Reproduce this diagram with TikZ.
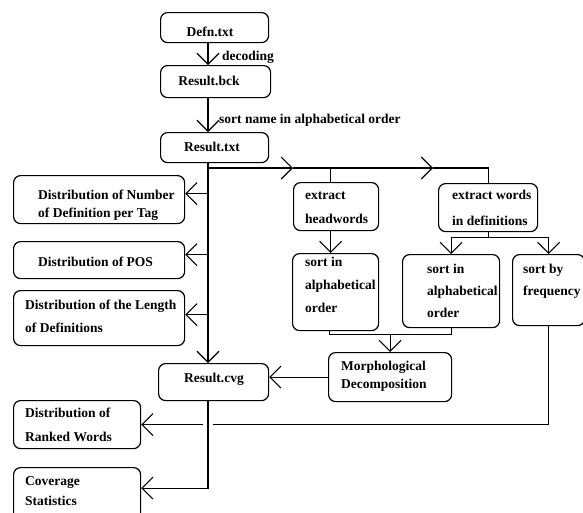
\documentclass[tikz,border=0pt]{standalone}
\usepackage{fontspec}
\setmainfont{Liberation Serif}
\usetikzlibrary{arrows.meta}
\begin{document}
\begin{tikzpicture}[x=1pt,y=-1pt,
  box/.style={draw, line width=1.2pt, rounded corners=7pt, inner sep=0pt, anchor=north west},
  txt/.style={inner sep=0pt, anchor=base west, align=left, font=\bfseries\fontsize{13.5}{18}\selectfont},
  txtc/.style={txt, anchor=base},
  ln/.style={line width=1.1pt},
  arr/.style={ln, -{Straight Barb[length=11pt,width=22pt,line width=1.1pt]}},
]
\useasboundingbox (0,0) rectangle (583,512);
% boxes
\node[box, minimum width=108pt, minimum height=30pt] (defn) at (160,12) {};
\node[box, minimum width=110pt, minimum height=32pt] (bck) at (160,65) {};
\node[box, minimum width=108pt, minimum height=30pt] (rtxt) at (160,132) {};
\node[box, minimum width=171pt, minimum height=48pt] (dnum) at (13,175) {};
\node[box, minimum width=171pt, minimum height=37pt] (dpos) at (13,241) {};
\node[box, minimum width=171pt, minimum height=55pt] (dlen) at (13,290) {};
\node[box, minimum width=85pt, minimum height=48pt] (exh) at (293,182) {};
\node[box, minimum width=99pt, minimum height=48pt] (exw) at (438,183) {};
\node[box, minimum width=86pt, minimum height=77pt] (sal) at (292,253) {};
\node[box, minimum width=97pt, minimum height=73pt] (sar) at (402,254) {};
\node[box, minimum width=72pt, minimum height=71pt] (sfr) at (512,254) {};
\node[box, minimum width=123pt, minimum height=49pt] (morph) at (328,352) {};
\node[box, minimum width=110pt, minimum height=37pt] (cvg) at (158,363) {};
\node[box, minimum width=127pt, minimum height=48pt] (drank) at (13,400) {};
\node[box, minimum width=127pt, minimum height=55pt] (cov) at (13,467) {};
% texts (multi-line: anchored at the baseline of the last line)
\node[txtc] (t-defn) at (210,36) {Defn.txt};
\node[txtc] (t-bck) at (209,85) {Result.bck};
\node[txtc] (t-rtxt) at (212,151) {Result.txt};
\node[txt] (t-dnum) at (38,217) {Distribution of Number\\of Definition per Tag};
\node[txt] (t-dpos) at (38,266) {Distribution of POS};
\node[txt, font=\bfseries\fontsize{13.5}{23}\selectfont] (t-dlen) at (25,332) {Distribution of the Length\\of Definitions};
\node[txt, font=\bfseries\fontsize{13.5}{24}\selectfont] (t-exh) at (305,223) {extract\\headwords};
\node[txt, font=\bfseries\fontsize{13.5}{26}\selectfont] (t-exw) at (452,225) {extract words\\in definitions};
\node[txt, font=\bfseries\fontsize{13.5}{23}\selectfont] (t-sal) at (305,312) {sort in\\alphabetical\\order};
\node[txt, font=\bfseries\fontsize{13.5}{22}\selectfont] (t-sar) at (427,317) {sort in\\alphabetical\\order};
\node[txt, font=\bfseries\fontsize{13.5}{22}\selectfont] (t-sfr) at (523,295) {sort by\\frequency};
\node[txt] (t-morph) at (341,388) {Morphological\\Decomposition};
\node[txtc] (t-cvg) at (214,382) {Result.cvg};
\node[txt, font=\bfseries\fontsize{13.5}{24}\selectfont] (t-drank) at (25,441) {Distribution of\\Ranked Words};
\node[txt, font=\bfseries\fontsize{13.5}{20}\selectfont] (t-cov) at (25,505) {Coverage\\Statistics};
\node[txt] (ldec) at (222,60) {decoding};
\node[txt] (lsort) at (219,123) {sort name in alphabetical order};
% connectors
\coordinate (tr) at (208,0);
\draw[arr] (defn.south -| tr) -- (bck.north -| tr);
\draw[arr] (bck.south -| tr) -- (rtxt.north -| tr);
\draw[arr] (rtxt.south -| tr) -- (cvg.north -| tr);
\draw[arr] ([yshift=6pt]dnum.east -| tr) -- ([yshift=6pt]dnum.east);
\draw[arr] ([yshift=5.5pt]dpos.east -| tr) -- ([yshift=5.5pt]dpos.east);
\draw[arr] ([yshift=3.5pt]dlen.east -| tr) -- ([yshift=3.5pt]dlen.east);
\coordinate (j1) at (208,168);
\coordinate (ja) at (293,168);
\coordinate (jb) at (433,168);
\draw[arr] (j1) -- (ja);
\draw[arr] (ja) -- (jb);
\draw[ln] (jb) -- (exw.north |- j1) -- (exw.north);
\draw[ln] ([xshift=-5.5pt]exh.north |- j1) -- ([xshift=-5.5pt]exh.north);
\draw[arr] ([xshift=-5.5pt]exh.south) -- ([xshift=-5.5pt]exh.south |- sal.north);
\coordinate (s) at ([yshift=-5pt]exw.south);
\draw[ln] (exw.south) -- (s);
\draw[ln] (s -| sar.north) -- (s -| sfr.north);
\draw[arr] (s -| sar.north) -- (sar.north);
\draw[arr] (s -| sfr.north) -- (sfr.north);
\coordinate (m) at ([yshift=-3pt]sal.south -| morph.north);
\draw[ln] ([xshift=-6pt]sal.south) |- (m) -| (sar.south);
\draw[arr] (m) -- (morph.north);
\draw[arr] (morph.west) -- (morph.west -| cvg.east);
\draw[ln] (sfr.south) -- (sfr.south |- drank.east) -- ([xshift=5pt]tr |- drank.east);
\draw[arr] ([xshift=-5pt]tr |- drank.east) -- (drank.east);
\draw[arr] (tr |- cvg.south) |- ([yshift=7pt]cov.east);
\end{tikzpicture}
\end{document}
